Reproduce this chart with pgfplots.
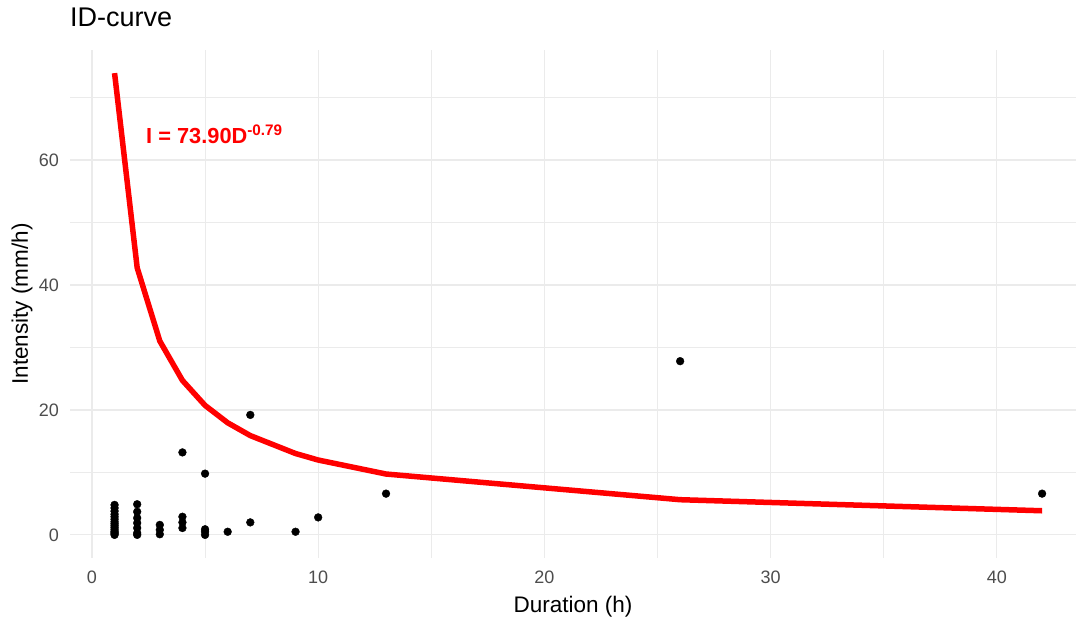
\documentclass[border=0pt]{standalone}
\usepackage{pgfplots}
\pgfplotsset{compat=1.18}
\usepackage{fontspec}
\setmainfont{Liberation Sans}
\definecolor{gridc}{HTML}{EBEBEB}
\definecolor{tickc}{HTML}{4D4D4D}
\begin{document}
\begin{tikzpicture}
\useasboundingbox (-70pt,-60pt) rectangle (1006pt,558pt);
\begin{axis}[
  at={(0pt,0pt)}, anchor=south west,
  scale only axis,
  width=1006pt, height=508pt,
  xmin=-0.97, xmax=43.5,
  ymin=-3.7, ymax=77.6,
  xtick={0,10,20,30,40},
  ytick={0,20,40,60},
  minor xtick={5,15,25,35},
  minor ytick={10,30,50,70},
  grid=both,
  major grid style={draw=gridc, line width=1.2pt},
  minor grid style={draw=gridc, line width=0.6pt},
  axis line style={draw=none},
  major tick length=0pt, minor tick length=0pt,
  /pgf/number format/assume math mode=true,
  tick label style={font=\fontsize{18}{20}\selectfont, text=tickc, inner sep=0pt},
  xticklabel style={yshift=-13pt},
  yticklabel style={xshift=-11pt},
  xlabel={Duration (h)},
  ylabel={Intensity (mm/h)},
  label style={font=\fontsize{22.5}{25}\selectfont, inner sep=0pt},
  xlabel style={at={(axis description cs:0.5,-0.108)}, anchor=base},
  ylabel style={at={(axis description cs:-0.0477,0.5)}, anchor=center},
  title={ID-curve},
  title style={font=\fontsize{27}{30}\selectfont, at={(axis description cs:0,1.0354)}, anchor=base west, inner sep=0pt},
  clip=false,
]
\addplot[only marks, mark=*, mark size=3.9pt, black] coordinates {
(1,0) (1,0.2) (1,0.4) (1,0.6) (1,0.9) (1,1.2) (1,1.5) (1,1.8) (1,2.1) (1,2.5) (1,2.9) (1,3.3) (1,3.8) (1,4.3) (1,4.8)
(2,0) (2,0.3) (2,1.1) (2,1.9) (2,2.7) (2,3.7) (2,4.9)
(3,0.1) (3,0.8) (3,1.6)
(4,1.1) (4,2.0) (4,2.9) (4,13.2)
(5,0) (5,0.5) (5,0.9) (5,9.8)
(6,0.5)
(7,2.0) (7,19.2)
(9,0.5)
(10,2.8)
(13,6.6)
(26,27.8)
(42,6.6)
};
\addplot[red, line width=5.5pt, line join=round] coordinates {
(1,73.90) (2,42.74) (3,31.02) (4,24.72) (5,20.72) (6,17.94) (7,15.89) (9,13.02) (10,11.98) (13,9.74) (26,5.63) (42,3.86)
};
\node[anchor=base west, inner sep=0pt, text=red, font=\fontsize{21.8}{24}\selectfont\bfseries] at (axis cs:2.39,62.7) {I = 73.90D\textsuperscript{-0.79}};
\end{axis}
\end{tikzpicture}
\end{document}
